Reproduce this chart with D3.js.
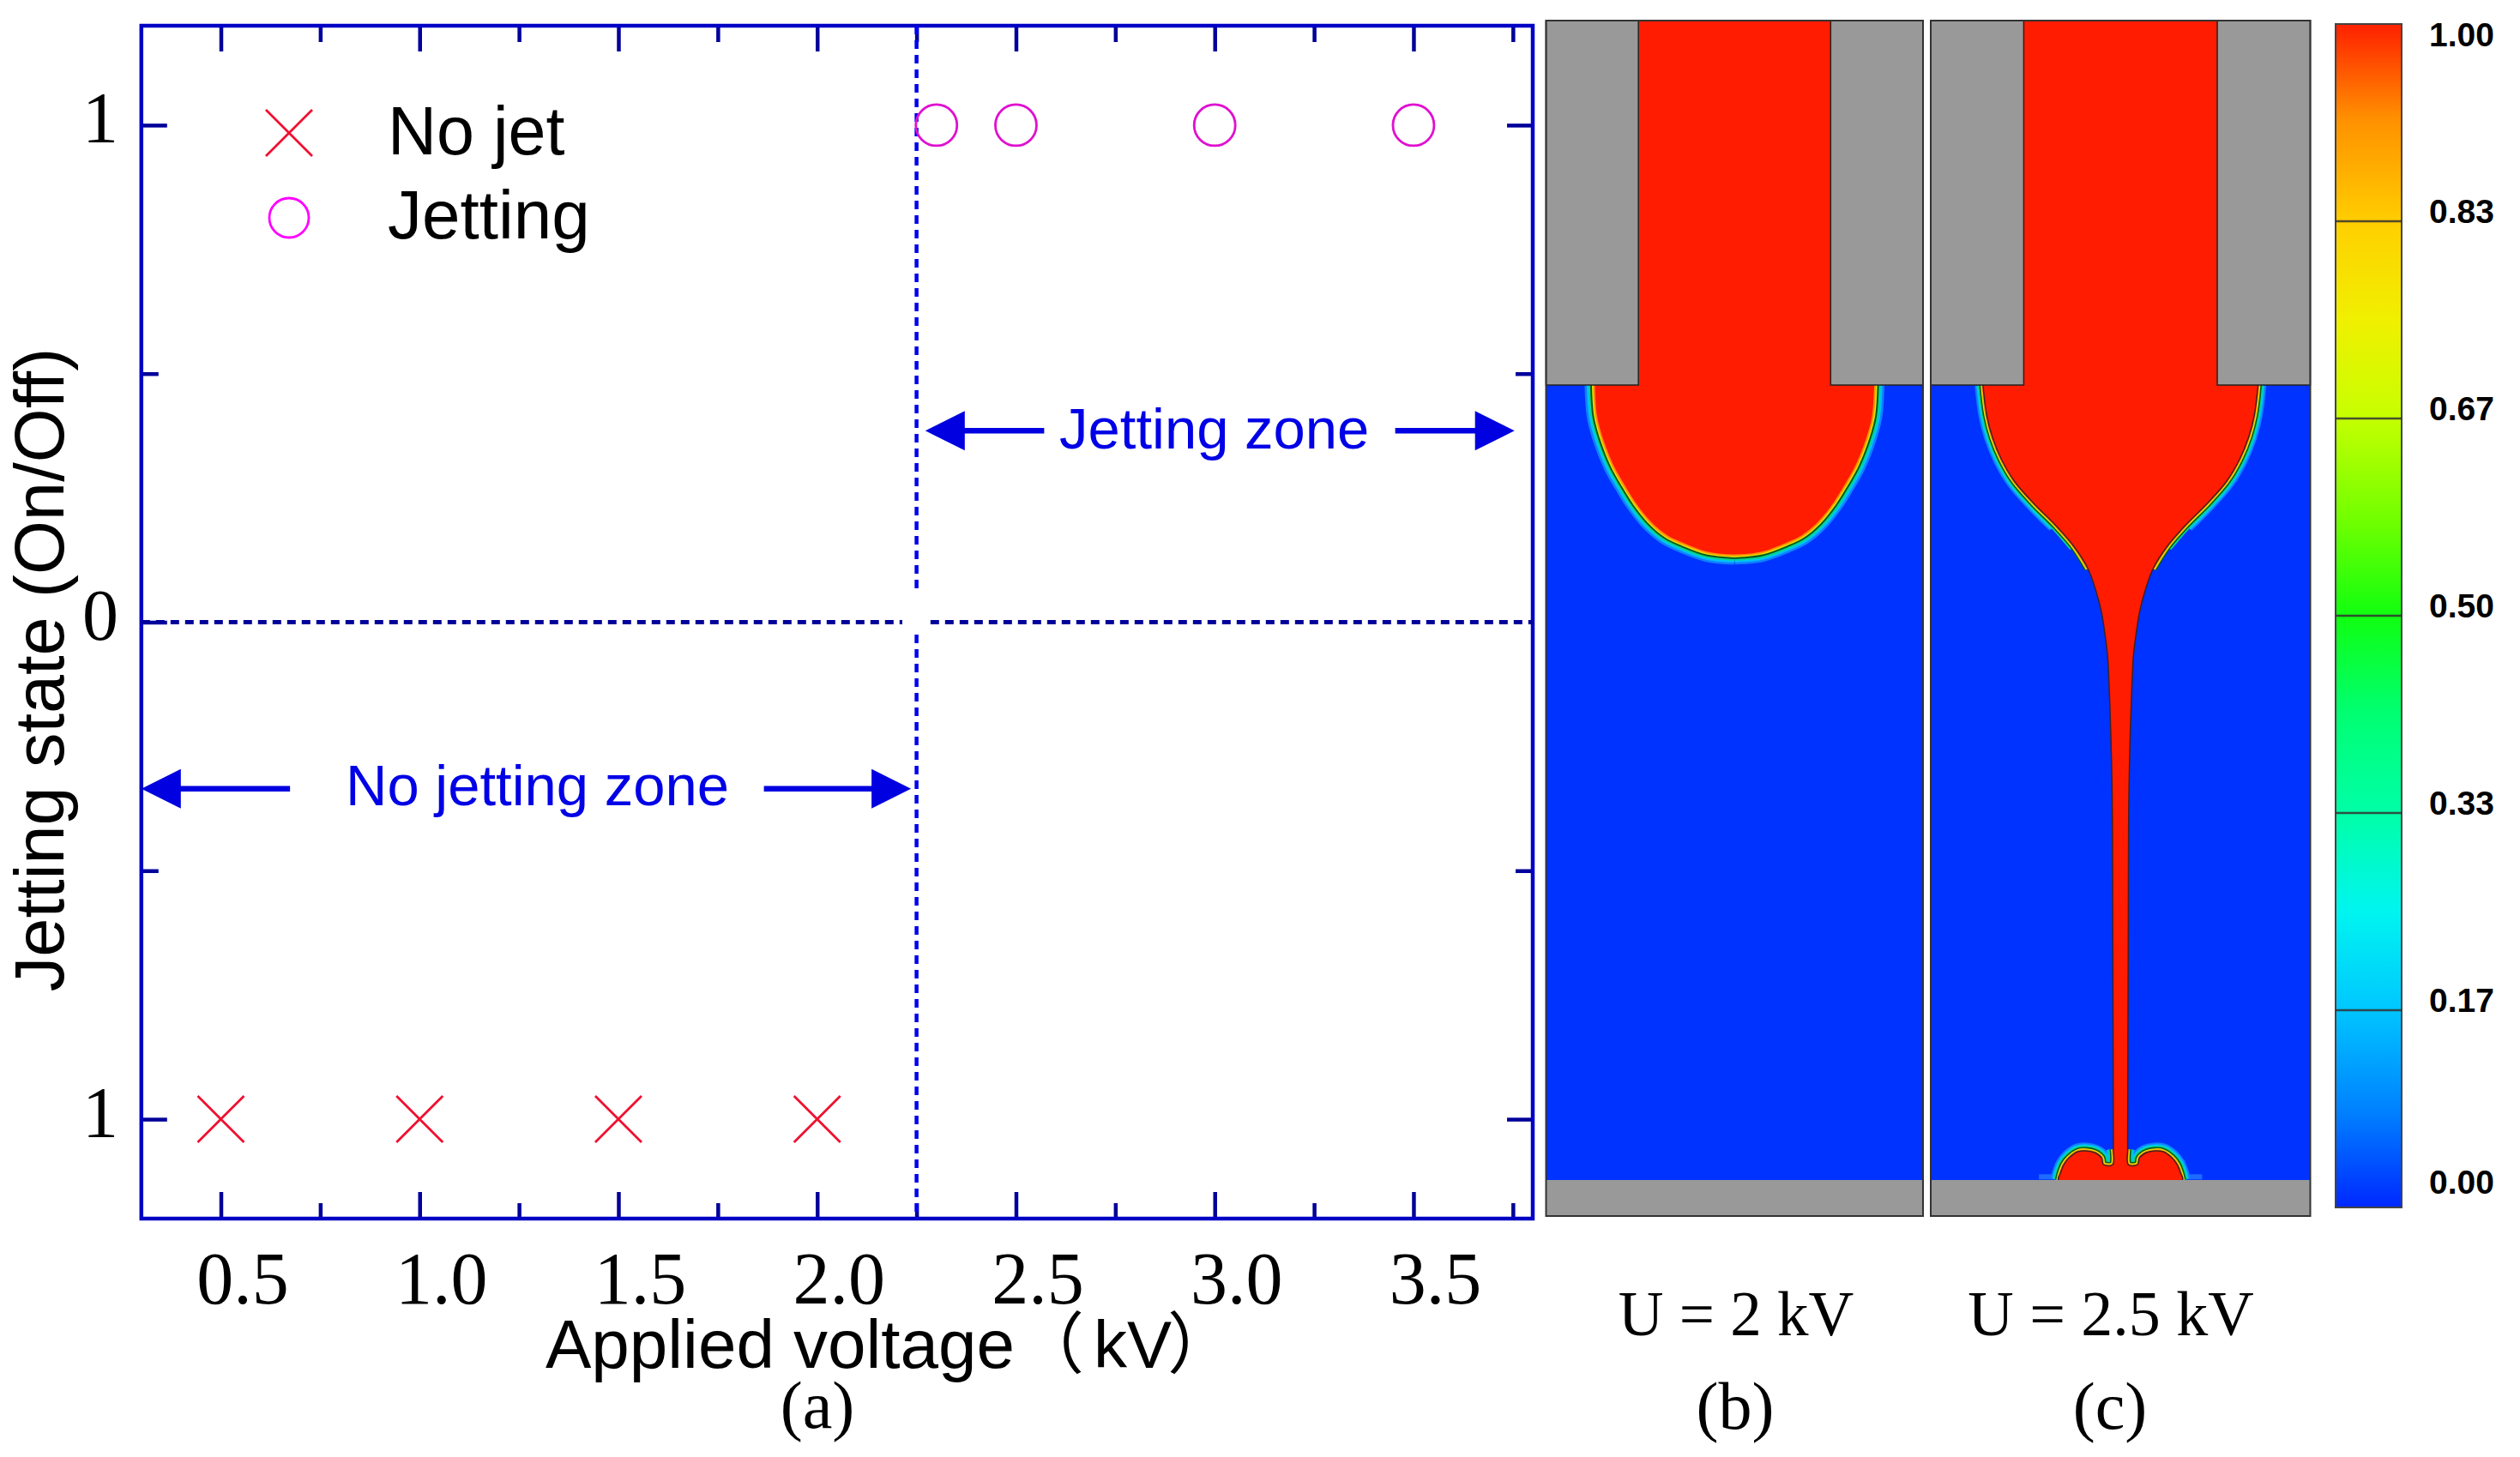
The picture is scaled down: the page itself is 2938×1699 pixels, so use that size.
<!DOCTYPE html>
<html>
<head>
<meta charset="utf-8">
<title>Jetting state</title>
<script src="https://cdn.jsdelivr.net/npm/d3@7"></script>
<style>
  html, body { margin: 0; padding: 0; background: #fff; }
  svg { display: block; }
  text { fill: #000; }
  .sans { font-family: "Liberation Sans", Arial, sans-serif; }
  .serif { font-family: "Liberation Serif", "Times New Roman", serif; }
  .cjk { font-family: "Noto Sans CJK SC", sans-serif; }
</style>
</head>
<body>
<script>
// chart (a)
var xMajor = [0.5, 1.0, 1.5, 2.0, 2.5, 3.0, 3.5];
var xMinor = [0.75, 1.25, 1.75, 2.25, 2.75, 3.25, 3.75];
var xLabels = ['0.5', '1.0', '1.5', '2.0', '2.5', '3.0', '3.5'];
var yLabelled = [-1, 0, 1];
var yLabels = ['1', '0', '1'];
var yMinor = [-0.5, 0.5];
var noJetV = [0.5, 1.0, 1.5, 2.0];
var noJetState = [-1, -1, -1, -1];
var jetV = [2.3, 2.5, 3.0, 3.5];
var jetState = [1, 1, 1, 1];
var thresholdV = 2.25;
var thresholdSegments = [[1.2, 0.066], [-0.025, -1.2]];
var zeroSegments = [[0.3, 2.214], [2.285, 3.8]];
var jetZoneY = 0.385, noJetZoneY = -0.335;
// [tail, tip] in kV
var jetZoneArrows = [[2.571, 2.272], [3.454, 3.754]];
var noJetZoneArrows = [[0.674, 0.3], [1.866, 2.236]];

// droplet outlines: r is a fraction of the half panel width, z runs 0 (nozzle exit) to 1 (substrate)
var dropR = [0.741, 0.73, 0.7, 0.641, 0.58, 0.523, 0.445, 0.36, 0.273, 0.145, 0];
var dropZ = [0, 0.0383, 0.0658, 0.1014, 0.127, 0.1485, 0.1715, 0.1885, 0.1985, 0.2095, 0.213];
var jetR = [0.725, 0.705, 0.675, 0.628, 0.56, 0.46, 0.345, 0.245, 0.172, 0.13, 0.1, 0.082, 0.068, 0.06, 0.045, 0.041, 0.038, 0.038, 0.041, 0.09, 0.1, 0.136, 0.181, 0.226, 0.271, 0.299, 0.317, 0.326];
var jetZ = [0, 0.0383, 0.0658, 0.0933, 0.1208, 0.1483, 0.1758, 0.2033, 0.2309, 0.2584, 0.2859, 0.3134, 0.3409, 0.3787, 0.5027, 0.6882, 0.9353, 0.9612, 0.9806, 0.9806, 0.972, 0.9655, 0.9633, 0.9644, 0.972, 0.9806, 0.9914, 1];

// colour bar
var barLabels = ['1.00', '0.83', '0.67', '0.50', '0.33', '0.17', '0.00'];
var stopValues = [0, 0.08, 0.17, 0.25, 0.33, 0.42, 0.5, 0.58, 0.67, 0.75, 0.83, 0.92, 1];
var stopColors = ['#0028ff', '#0080ff', '#00c8ff', '#00f5f0', '#00ffaa', '#00ff70', '#10ff10', '#70ff00', '#c8ff00', '#f0f000', '#ffd000', '#ff9000', '#ff2000'];

// interface contours, outermost first: stroke width, colour, lowest z for the thin jet
var contourWidths = [24, 19, 15, 11, 7, 4];
var contourColors = ['#1080ff', '#00c0ff', '#00d890', '#0a5a20', '#e8e000', '#ff9000'];
var contourLimits = [0.19, 0.2, 0.21, 0.235, 0.24, 0.245];

var frameColor = '#0000c4', tickColor = '#00009a', dashColor = '#0000f0';
var red = '#ff1c00', blue = '#0033ff', grey = '#999999';

var svg = d3.select('body').append('svg').attr('width', 2938).attr('height', 1699);

var x = d3.scaleLinear().domain([0.3, 3.8]).range([164.8, 1787]);
var y = d3.scaleLinear().domain([-1.2, 1.2]).range([1421, 30]);

// axes on all four sides, ticks pointing inwards
function ticks(axis, values, size, label) {
  return axis.tickValues(values).tickSize(size).tickSizeOuter(0).tickFormat(label || '');
}
function drawAxis(translate, axis) {
  var g = svg.append('g').attr('transform', translate).call(axis);
  g.select('.domain').remove();
  g.selectAll('line').attr('stroke', tickColor).attr('stroke-width', 4.5);
  return g;
}
function xLabel(d) { return xLabels[xMajor.indexOf(d)]; }
function yLabel(d) { return yLabels[yLabelled.indexOf(d)]; }

drawAxis('translate(0,1421)', ticks(d3.axisTop(x), xMajor, 31));
drawAxis('translate(0,1421)', ticks(d3.axisTop(x), xMinor, 18));
drawAxis('translate(0,30)', ticks(d3.axisBottom(x), xMajor, 30));
drawAxis('translate(0,30)', ticks(d3.axisBottom(x), xMinor, 19));
drawAxis('translate(164.8,0)', ticks(d3.axisRight(y), yLabelled, 30));
drawAxis('translate(164.8,0)', ticks(d3.axisRight(y), yMinor, 20));
drawAxis('translate(1787,0)', ticks(d3.axisLeft(y), [1, -1], 30));
drawAxis('translate(1787,0)', ticks(d3.axisLeft(y), yMinor, 20));

// tick labels sit to the right of their ticks in the original
var labelAxis = svg.append('g').attr('transform', 'translate(0,1421)')
  .call(ticks(d3.axisBottom(x), xMajor, 0, xLabel));
labelAxis.select('.domain').remove();
labelAxis.selectAll('line').remove();
labelAxis.selectAll('text').attr('class', 'serif').attr('font-size', 86)
  .attr('fill', '#000').attr('dy', 0).attr('y', 99).attr('dx', 25);

var yLabelAxis = svg.append('g').attr('transform', 'translate(117,0)')
  .call(ticks(d3.axisLeft(y), yLabelled, 0, yLabel));
yLabelAxis.select('.domain').remove();
yLabelAxis.selectAll('line').remove();
yLabelAxis.selectAll('text').attr('class', 'serif').attr('font-size', 84)
  .attr('fill', '#000').attr('x', 0).attr('dy', 20).attr('text-anchor', 'middle');

svg.append('rect').attr('x', x(0.3)).attr('y', y(1.2))
  .attr('width', x(3.8) - x(0.3)).attr('height', y(-1.2) - y(1.2))
  .attr('fill', 'none').attr('stroke', frameColor).attr('stroke-width', 4.5);

// threshold and zero lines
svg.selectAll('.thr').data(thresholdSegments).enter().append('line').attr('class', 'thr')
  .attr('x1', x(thresholdV)).attr('x2', x(thresholdV))
  .attr('y1', function (d) { return y(d[0]); }).attr('y2', function (d) { return y(d[1]); })
  .attr('stroke', dashColor).attr('stroke-width', 4.5).attr('stroke-dasharray', '10 7');
svg.selectAll('.zero').data(zeroSegments).enter().append('line').attr('class', 'zero')
  .attr('x1', function (d) { return x(d[0]); }).attr('x2', function (d) { return x(d[1]); })
  .attr('y1', y(0)).attr('y2', y(0))
  .attr('stroke', tickColor).attr('stroke-width', 5).attr('stroke-dasharray', '10 7');

// markers
var cross = d3.symbol().type(d3.symbolTimes).size(1905);
svg.selectAll('.nojet').data(noJetV).enter().append('path').attr('class', 'nojet')
  .attr('d', cross)
  .attr('transform', function (d, i) { return 'translate(' + x(d) + ',' + y(noJetState[i]) + ')'; })
  .attr('fill', 'none').attr('stroke', '#f01030').attr('stroke-width', 2.8);
svg.selectAll('.jet').data(jetV).enter().append('circle').attr('class', 'jet')
  .attr('cx', x).attr('cy', function (d, i) { return y(jetState[i]); }).attr('r', 24)
  .attr('fill', 'none').attr('stroke', '#e010d0').attr('stroke-width', 2.8);

// legend
svg.append('path').attr('d', cross).attr('transform', 'translate(337,155)')
  .attr('fill', 'none').attr('stroke', '#f01030').attr('stroke-width', 2.8);
svg.append('circle').attr('cx', 337).attr('cy', 254).attr('r', 23)
  .attr('fill', 'none').attr('stroke', '#ff00ff').attr('stroke-width', 2.8);

function addText(txt, px, py, size, cls, anchor, color) {
  return svg.append('text').text(txt).attr('x', px).attr('y', py)
    .attr('font-size', size).attr('class', cls)
    .attr('text-anchor', anchor || 'start').style('fill', color || '#000');
}
addText('No jet', 452, 180, 79, 'sans');
addText('Jetting', 452, 278, 80, 'sans');
addText('(a)', 953, 1665, 78, 'serif', 'middle');
addText('Jetting state (On/Off)', 0, 0, 81, 'sans', 'middle')
  .attr('transform', 'translate(74,781) rotate(-90)');

var xTitle = svg.append('text').attr('y', 1595).attr('font-size', 80).attr('class', 'sans');
xTitle.append('tspan').attr('x', 636).text('Applied voltage');
xTitle.append('tspan').attr('x', 1186).attr('class', 'cjk').attr('font-size', 78).text('\uFF08');
xTitle.append('tspan').attr('x', 1275).attr('font-size', 78).text('kV');
xTitle.append('tspan').attr('x', 1361).attr('class', 'cjk').attr('font-size', 78).text('\uFF09');

// zone annotations
function arrow(d, yVal) {
  var dir = d[1] > d[0] ? 1 : -1;
  var tip = x(d[1]);
  svg.append('line').attr('x1', x(d[0])).attr('x2', tip - dir * 20)
    .attr('y1', y(yVal)).attr('y2', y(yVal))
    .attr('stroke', '#0000e0').attr('stroke-width', 6.5);
  svg.append('path')
    .attr('d', d3.line()([[tip, y(yVal)], [tip - dir * 46, y(yVal) - 23], [tip - dir * 46, y(yVal) + 23]]) + 'Z')
    .attr('fill', '#0000e0');
}
jetZoneArrows.forEach(function (d) { arrow(d, jetZoneY); });
noJetZoneArrows.forEach(function (d) { arrow(d, noJetZoneY); });
addText('Jetting zone', 1235, 523, 67, 'sans', 'start', '#0000e6');
addText('No jetting zone', 403, 939, 67, 'sans', 'start', '#0000e6');

// simulation panels
function drawPanel(x0, x1, radii, heights, thinJet) {
  var r = d3.scaleLinear().domain([-1, 1]).range([x0, x1]);
  var z = d3.scaleLinear().domain([0, 1]).range([449, 1376]);
  var zTop = z.invert(24), zBottom = z.invert(1418), inner = 0.51;

  var right = radii.map(function (d, i) { return [d, heights[i]]; });
  var left = right.map(function (d) { return [-d[0], d[1]]; });
  var outline = left.concat(right.slice().reverse().slice(radii[radii.length - 1] === 0 ? 1 : 0));
  var line = d3.line().x(function (d) { return r(d[0]); }).y(function (d) { return z(d[1]); })
    .curve(d3.curveCatmullRom.alpha(0.5));

  svg.append('rect').attr('x', x0).attr('y', z(0)).attr('width', x1 - x0)
    .attr('height', z(1) - z(0)).attr('fill', blue);

  // faint halo where the deposited liquid meets the substrate
  if (thinJet) {
    [-1, 1].forEach(function (s) {
      svg.append('line').attr('x1', r(s * 0.33)).attr('x2', r(s * 0.43))
        .attr('y1', z(0.996)).attr('y2', z(0.996))
        .attr('stroke', '#40b0ff').attr('stroke-width', 6).attr('opacity', 0.45);
    });
  }

  // interface band: one stroke per contour colour, widest first
  contourWidths.forEach(function (w, i) {
    var band = d3.line().x(function (d) { return r(d[0]); }).y(function (d) { return z(d[1]); })
      .curve(d3.curveCatmullRom.alpha(0.5))
      .defined(function (d) { return !thinJet || d[1] < contourLimits[i] || d[1] > 0.95; });
    [left, right].forEach(function (side) {
      svg.append('path').attr('d', band(side)).attr('fill', 'none')
        .attr('stroke', contourColors[i]).attr('stroke-width', thinJet ? w * 0.8 : w);
    });
  });
  svg.append('path').attr('d', line(outline)).attr('fill', red)
    .attr('stroke', thinJet ? '#402020' : 'none').attr('stroke-width', thinJet ? 1.5 : 0);

  // liquid in the tube, walls, substrate
  svg.append('rect').attr('x', r(-inner)).attr('y', z(zTop)).attr('width', r(inner) - r(-inner))
    .attr('height', z(0) - z(zTop)).attr('fill', red);
  [[-1, -inner], [inner, 1]].forEach(function (w) {
    svg.append('rect').attr('x', r(w[0])).attr('y', z(zTop)).attr('width', r(w[1]) - r(w[0]))
      .attr('height', z(0) - z(zTop)).attr('fill', grey).attr('stroke', '#222').attr('stroke-width', 1.5);
  });
  svg.append('rect').attr('x', x0).attr('y', z(1)).attr('width', x1 - x0)
    .attr('height', z(zBottom) - z(1)).attr('fill', grey);
  svg.append('rect').attr('x', x0).attr('y', z(zTop)).attr('width', x1 - x0)
    .attr('height', z(zBottom) - z(zTop)).attr('fill', 'none')
    .attr('stroke', '#333').attr('stroke-width', 2);
}
drawPanel(1802.5, 2242, dropR, dropZ, false);
drawPanel(2251, 2693.5, jetR, jetZ, true);

addText('U = 2 kV', 2024, 1557, 73, 'serif', 'middle');
addText('U = 2.5 kV', 2461, 1557, 74, 'serif', 'middle');
addText('(b)', 2023, 1666, 78, 'serif', 'middle');
addText('(c)', 2460, 1666, 78, 'serif', 'middle');

// colour bar
var grad = svg.append('defs').append('linearGradient').attr('id', 'bar')
  .attr('x1', 0).attr('x2', 0).attr('y1', 1).attr('y2', 0);
grad.selectAll('stop').data(stopValues).enter().append('stop')
  .attr('offset', function (d) { return d; })
  .attr('stop-color', function (d, i) { return stopColors[i]; });

var barY = d3.scalePoint().domain(barLabels).range([28, 1408]);
svg.append('rect').attr('x', 2723).attr('y', 28).attr('width', 77).attr('height', 1380)
  .attr('fill', 'url(#bar)').attr('stroke', '#444').attr('stroke-width', 2);
svg.selectAll('.sep').data(barLabels.slice(1, -1)).enter().append('line').attr('class', 'sep')
  .attr('x1', 2723).attr('x2', 2800).attr('y1', barY).attr('y2', barY)
  .attr('stroke', '#333').attr('stroke-width', 2.5).attr('opacity', 0.85);
svg.selectAll('.barlabel').data(barLabels).enter().append('text').attr('class', 'barlabel sans')
  .text(function (d) { return d; })
  .attr('x', 2832).attr('font-size', 39).attr('font-weight', 'bold')
  .attr('y', function (d) { return Math.min(1392, Math.max(53.5, barY(d) + 2)); });
</script>
</body>
</html>
